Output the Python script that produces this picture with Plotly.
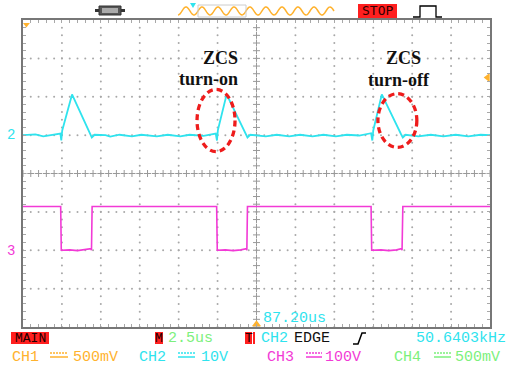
import numpy as np
import plotly.graph_objects as go

# ---------------- data (time in us, 2.5 us/div, 12 div) ----------------
ch2_t = [0.0, 0.8, 1.3, 1.9, 2.40, 2.46, 2.52, 3.15, 4.30, 4.42, 4.60, 5.3, 5.6, 6.2, 7.0, 7.6,
         8.6, 9.3, 10.1, 10.7, 11.6, 12.38, 12.46, 12.52, 13.08, 14.30, 14.42, 14.60, 15.6,
         16.3, 17.1, 17.8, 18.6, 19.3, 20.1, 20.8, 21.6, 22.36, 22.44, 22.50, 23.05, 24.28,
         24.40, 24.58, 25.4, 26.2, 27.0, 27.8, 28.6, 29.4, 30.0]
ch2_v = [0.0, 0.2, -0.3, 0.1, 0.4, -1.4, 1.2, 10.6, 0.2, -0.6, 0.1, 0.0, -0.4, 0.1, -0.3, 0.1,
         -0.3, 0.1, -0.3, 0.1, -0.2, 0.4, -1.4, 1.3, 10.6, 0.2, -0.6, 0.1, -0.3,
         0.1, -0.3, 0.1, -0.3, 0.1, -0.3, 0.1, -0.1, 0.5, -1.4, 1.2, 10.6, 0.3,
         -0.6, 0.1, -0.3, 0.1, -0.3, 0.1, -0.3, 0.1, 0.0]

ch3_t = [0.0, 2.42, 2.46, 3.0, 3.5, 4.0, 4.36, 4.40, 4.44, 12.44, 12.48, 13.0, 13.5, 14.0,
         14.34, 14.38, 14.42, 22.36, 22.40, 23.0, 23.5, 24.0, 24.3, 24.35, 24.40, 30.0]
ch3_v = [114, 114, 0, 1, -1, 1, 4, 0, 114, 114, 0, 1, -1, 1,
         4, 0, 114, 114, 0, 1, -1, 1, 4, 0, 114, 114]

ch2_scale, ch2_offset = 10.0, 1.0      # 10 V/div, marker at +1 div
ch3_scale, ch3_offset = 100.0, -2.0    # 100 V/div, marker at -2 div

annot_lines = ["ZCS", "turn-on", "ZCS", "turn-off"]

# ---------------- colours ----------------
CYAN = "#2fe3ee"
MAG = "#f23ad6"
ORANGE = "#ffb22e"
GREEN = "#7cf07c"
RED = "#ee1c1c"
GRID = "#a8a8a8"

# plot area in pixels
L, R, T, B = 23, 490, 20, 327
W, H = 508, 365


def px(xp):
    return (xp - L) / (R - L)


def py(yp):
    return (B - yp) / (B - T)


fig = go.Figure()

# ---------------- graticule ----------------
gx, gy = [], []
for k in range(1, 12):
    if k == 6:
        continue
    ys = np.arange(-4, 4.001, 0.2)
    gx += [k * 2.5] * len(ys)
    gy += list(ys)
for j in range(-3, 4):
    if j == 0:
        continue
    xs = np.arange(0, 30.001, 0.5)
    gx += list(xs)
    gy += [j] * len(xs)
fig.add_trace(go.Scatter(x=gx, y=gy, mode="markers", hoverinfo="skip",
                         marker=dict(size=2, color=GRID), showlegend=False))
cx = list(np.arange(0, 30.001, 0.5)) + [15] * 41
cy = [0] * 61 + list(np.arange(-4, 4.001, 0.2))
fig.add_trace(go.Scatter(x=cx, y=cy, mode="markers", hoverinfo="skip",
                         marker=dict(size=5, symbol="cross-thin", color="#999999",
                                     line=dict(width=1, color="#999999")), showlegend=False))

# ---------------- traces ----------------
fig.add_trace(go.Scatter(x=ch2_t, y=[ch2_offset + v / ch2_scale for v in ch2_v],
                         mode="lines", line=dict(color=CYAN, width=1.8), showlegend=False))
fig.add_trace(go.Scatter(x=ch3_t, y=[ch3_offset + v / ch3_scale for v in ch3_v],
                         mode="lines", line=dict(color=MAG, width=1.6), showlegend=False))

# channel ground markers and trigger markers
fig.add_trace(go.Scatter(x=[-0.22, -0.22], y=[ch2_offset, ch3_offset], mode="markers",
                         marker=dict(symbol="triangle-right", size=6, color="black"),
                         cliponaxis=False, showlegend=False, hoverinfo="skip"))
fig.add_trace(go.Scatter(x=[15], y=[-3.93], mode="markers",
                         marker=dict(symbol="triangle-up", size=8, color=ORANGE),
                         cliponaxis=False, showlegend=False, hoverinfo="skip"))
fig.add_trace(go.Scatter(x=[29.85], y=[2.5], mode="markers",
                         marker=dict(symbol="triangle-left", size=8, color=ORANGE),
                         cliponaxis=False, showlegend=False, hoverinfo="skip"))
fig.add_trace(go.Scatter(x=[0.22], y=[3.88], mode="markers",
                         marker=dict(symbol="triangle-down", size=6, color=ORANGE),
                         cliponaxis=False, showlegend=False, hoverinfo="skip"))

shapes = []
# dashed red ellipses
shapes.append(dict(type="circle", xref="x", yref="y", x0=11.18, x1=13.62, y0=0.57, y1=2.19,
                   line=dict(color=RED, width=3.3, dash="6px,4px"), layer="above"))
shapes.append(dict(type="circle", xref="x", yref="y", x0=22.8, x1=25.3, y0=0.68, y1=2.08,
                   line=dict(color=RED, width=3.3, dash="6px,4px"), layer="above"))

# ---------------- top status bar decorations ----------------
# connector icon
shapes.append(dict(type="rect", xref="paper", yref="paper", x0=px(99), x1=px(121), y0=py(15), y1=py(6),
                   fillcolor="#555555", line=dict(color="#333333", width=1)))
shapes.append(dict(type="rect", xref="paper", yref="paper", x0=px(102), x1=px(118), y0=py(13), y1=py(8),
                   fillcolor="#aaaaaa", line=dict(width=0)))
shapes.append(dict(type="rect", xref="paper", yref="paper", x0=px(95), x1=px(99), y0=py(12), y1=py(9),
                   fillcolor="#333333", line=dict(width=0)))
shapes.append(dict(type="rect", xref="paper", yref="paper", x0=px(121), x1=px(125), y0=py(12), y1=py(9),
                   fillcolor="#333333", line=dict(width=0)))
# orange sine (memory bar)
xs_w = np.linspace(178, 334, 240)
ys_w = 11 + 4 * np.cos((xs_w - 178) / 16.0 * 2 * np.pi)
path = "M " + " L ".join(f"{px(a):.5f},{py(b):.5f}" for a, b in zip(xs_w, ys_w))
shapes.append(dict(type="path", xref="paper", yref="paper", path=path,
                   line=dict(color=ORANGE, width=1.5)))
shapes.append(dict(type="rect", xref="paper", yref="paper", x0=px(198), x1=px(246), y0=py(17), y1=py(5),
                   line=dict(color="#cccccc", width=1)))
shapes.append(dict(type="path", xref="paper", yref="paper",
                   path=f"M {px(190)},{py(3)} L {px(196)},{py(3)} L {px(193)},{py(8)} Z",
                   fillcolor=CYAN, line=dict(width=0)))
# STOP box
shapes.append(dict(type="rect", xref="paper", yref="paper", x0=px(358), x1=px(397), y0=py(18), y1=py(4),
                   fillcolor="#ff1f1f", line=dict(width=0)))
# trigger pulse icon
shapes.append(dict(type="path", xref="paper", yref="paper",
                   path=f"M {px(413)},{py(17)} L {px(420)},{py(17)} L {px(420)},{py(6)} L {px(436)},{py(6)} "
                        f"L {px(436)},{py(17)} L {px(442)},{py(17)}",
                   line=dict(color="black", width=1.3)))

# ---------------- bottom status bar ----------------
for x0, x1 in [(11, 49), (155, 163), (245, 252)]:
    shapes.append(dict(type="rect", xref="paper", yref="paper", x0=px(x0), x1=px(x1), y0=py(344), y1=py(332),
                       fillcolor="#ff1f1f", line=dict(width=0)))
shapes.append(dict(type="rect", xref="paper", yref="paper", x0=px(253), x1=px(255), y0=py(344), y1=py(332),
                   fillcolor="#ff1f1f", line=dict(width=0)))
# DC coupling symbols
for (x0, x1, col) in [(50, 68, ORANGE), (178, 195, CYAN), (306, 322, MAG), (434, 451, GREEN)]:
    shapes.append(dict(type="line", xref="paper", yref="paper", x0=px(x0), x1=px(x1), y0=py(353), y1=py(353),
                       line=dict(color=col, width=1.5, dash="2px,1px")))
    shapes.append(dict(type="line", xref="paper", yref="paper", x0=px(x0), x1=px(x1), y0=py(357), y1=py(357),
                       line=dict(color=col, width=1.5)))
# slope symbol
shapes.append(dict(type="path", xref="paper", yref="paper",
                   path=f"M {px(353)},{py(344)} L {px(358)},{py(344)} L {px(362)},{py(333)} L {px(366)},{py(333)}",
                   line=dict(color="black", width=1.5)))

MONO = "Liberation Mono, DejaVu Sans Mono, monospace"
annots = []


def txt(s, xp, yp, color, size=15, anchor="left", family=MONO):
    annots.append(dict(text=s, x=px(xp), y=py(yp), xref="paper", yref="paper", showarrow=False,
                       xanchor=anchor, yanchor="middle", font=dict(family=family, size=size, color=color)))


txt("STOP", 377.5, 11, "#300000", size=13, anchor="center", family="DejaVu Sans Mono")
txt("MAIN", 30, 338.5, "#200000", size=13, anchor="center")
txt("M", 159, 338.5, "#200000", size=13, anchor="center")
txt("2.5us", 166, 338.5, GREEN)
txt("T", 248.5, 338.5, "#200000", size=13, anchor="center")
txt("CH2", 259, 338.5, CYAN)
txt("EDGE", 292, 338.5, "#111111")
txt("50.6403kHz", 414, 338.5, CYAN)
txt("CH1", 10, 357, ORANGE)
txt("500mV", 71, 357, ORANGE)
txt("CH2", 137, 357, CYAN)
txt("10V", 199, 357, CYAN)
txt("CH3", 265, 357, MAG)
txt("100V", 323, 357, MAG)
txt("CH4", 392, 357, GREEN)
txt("500mV", 453, 357, GREEN)
txt("87.20us", 261, 318, CYAN)
txt("2", 11, 135, CYAN, size=14, anchor="center")
txt("3", 11, 251, MAG, size=14, anchor="center")

SERIF = "Liberation Serif, Times New Roman, serif"
for s, xp, yp in zip(annot_lines, [220, 208, 403, 399], [58, 79, 58, 80]):
    txt(f"<b>{s}</b>", xp, yp, "#111111", size=18, anchor="center", family=SERIF)

fig.update_layout(
    width=W, height=H,
    margin=dict(l=L, r=W - R, t=T, b=H - B, pad=0),
    paper_bgcolor="white", plot_bgcolor="white",
    showlegend=False,
    shapes=shapes,
    annotations=annots,
    xaxis=dict(range=[0, 30], showgrid=False, zeroline=False, showticklabels=False,
               ticks="inside", tick0=0, dtick=0.5, ticklen=3, tickcolor=GRID,
               showline=True, linecolor="#777777", linewidth=1.5, mirror="allticks", fixedrange=True),
    yaxis=dict(range=[-4, 4], showgrid=False, zeroline=False, showticklabels=False,
               ticks="inside", tick0=0, dtick=0.2, ticklen=3, tickcolor=GRID,
               showline=True, linecolor="#777777", linewidth=1.5, mirror="allticks", fixedrange=True),
)

fig.write_html("out.html", config={"displayModeBar": False},
               post_script="document.body.style.margin='0';document.body.style.overflow='hidden';")
